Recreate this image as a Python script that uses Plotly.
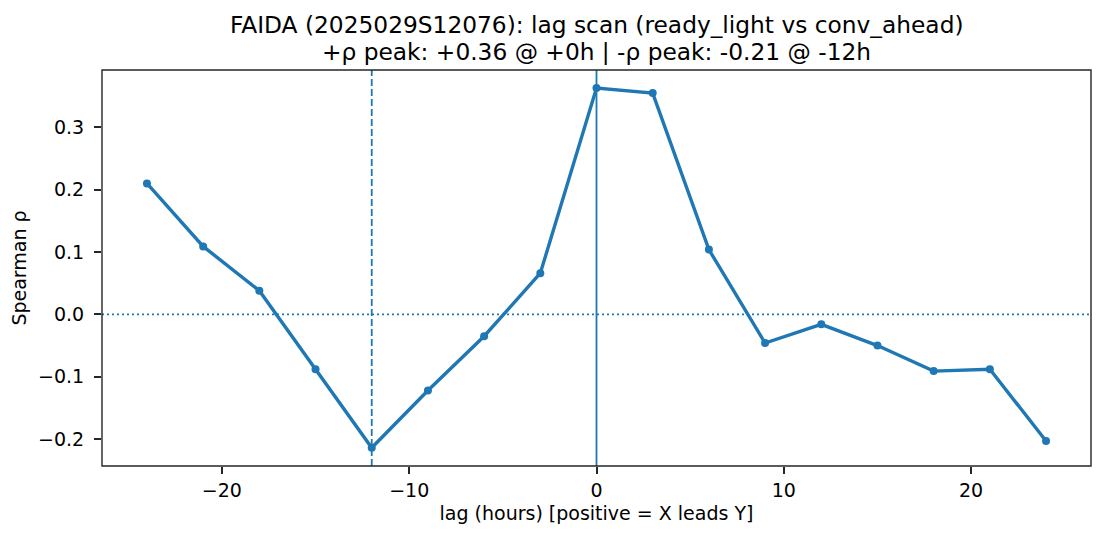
import plotly.graph_objects as go

lags = [-24, -21, -18, -15, -12, -9, -6, -3, 0, 3, 6, 9, 12, 15, 18, 21, 24]
rho = [0.210, 0.109, 0.038, -0.088, -0.214, -0.122, -0.035, 0.066, 0.363,
       0.355, 0.104, -0.046, -0.016, -0.050, -0.091, -0.088, -0.203]
pos_peak_lag = 0
neg_peak_lag = -12
title_lines = ["FAIDA (2025029S12076): lag scan (ready_light vs conv_ahead)",
               "+ρ peak: +0.36 @ +0h | -ρ peak: -0.21 @ -12h"]

C = "#1f77b4"
FONT = "DejaVu Sans"
FRAME = "#262626"
TICK_SIZE = 19
TITLE_SIZE = 23.3

fig = go.Figure()
fig.add_trace(go.Scatter(x=lags, y=rho, mode="lines+markers",
                         line=dict(color=C, width=3.4),
                         marker=dict(color=C, size=8), showlegend=False))

fig.add_hline(y=0, line=dict(color=C, width=1.8, dash="2px,3px"))
fig.add_vline(x=pos_peak_lag, line=dict(color=C, width=1.8))
fig.add_vline(x=neg_peak_lag, line=dict(color=C, width=1.8, dash="7px,3px"))

# frame
fig.add_shape(type="rect", xref="paper", yref="paper", x0=0, x1=1, y0=0, y1=1,
              line=dict(color=FRAME, width=1.4), fillcolor="rgba(0,0,0,0)", layer="above")

axis_common = dict(showgrid=False, zeroline=False, showline=False,
                   ticks="outside", ticklen=7, tickcolor=FRAME, tickwidth=1.5,
                   tickfont=dict(family=FONT, size=TICK_SIZE, color="black"))

fig.update_xaxes(range=[-26.4, 26.4], dtick=10, tick0=0, ticklabelstandoff=0,
                 title=dict(text="lag (hours) [positive = X leads Y]",
                            font=dict(family=FONT, size=TICK_SIZE, color="black"), standoff=6),
                 **axis_common)
fig.update_yaxes(range=[-0.2432, 0.392], dtick=0.1, tick0=0, tickformat=".1f",
                 ticklabelstandoff=6,
                 title=dict(text="Spearman ρ",
                            font=dict(family=FONT, size=TICK_SIZE, color="black"), standoff=9),
                 **axis_common)

for txt, ys in zip(title_lines, [30, 3]):
    fig.add_annotation(text=txt, xref="paper", yref="paper", x=0.5, y=1,
                       xanchor="center", yanchor="bottom", yshift=ys, showarrow=False,
                       font=dict(family=FONT, size=TITLE_SIZE, color="black"))

fig.update_layout(
    width=1105, height=540,
    margin=dict(l=94, r=22, t=62, b=82, autoexpand=False),
    plot_bgcolor="white", paper_bgcolor="white",
)

fig.write_html("out.html")
